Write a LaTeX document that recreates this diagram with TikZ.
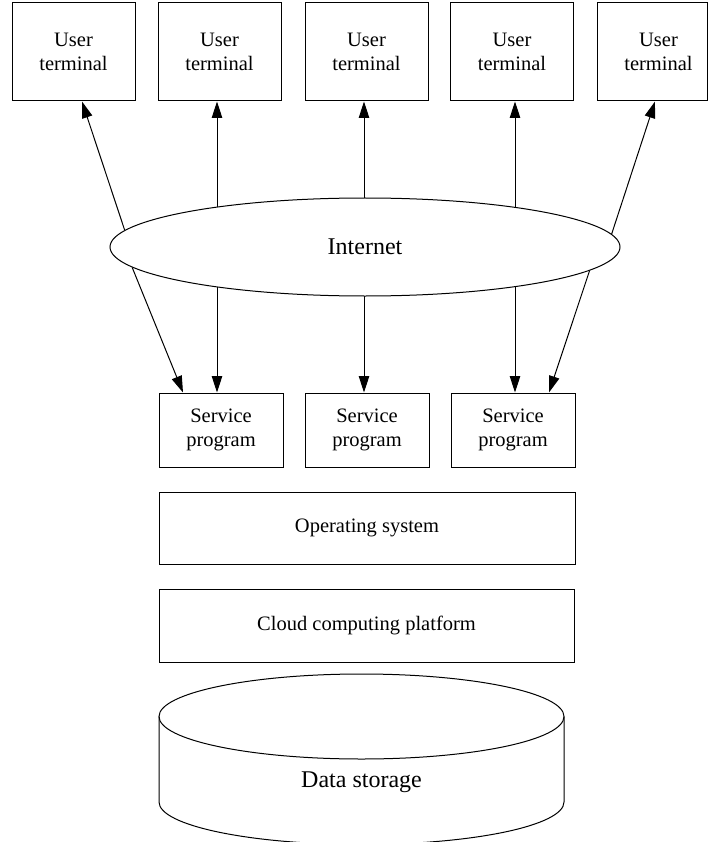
\documentclass[tikz,border=0pt]{standalone}
\usepackage{fontspec}
\setmainfont{Liberation Serif}
\usetikzlibrary{shapes.geometric,arrows.meta,backgrounds}
\begin{document}
\begin{tikzpicture}[x=1pt,y=1pt,
  box/.style={draw,line width=1pt,rectangle,inner sep=0pt,align=center,font=\fontsize{20.5}{24.6}\selectfont},
  term/.style={box,minimum width=123pt,minimum height=98pt},
  serv/.style={box,minimum width=124pt,minimum height=74pt},
  layer/.style={box,minimum width=416pt,minimum height=72pt},
  bigtext/.style={font=\fontsize{24}{28.8}\selectfont},
  arr/.style={line width=1pt,-{Triangle[length=16.5pt,width=10.5pt]}},
  thin/.style={line width=1pt}
]
\useasboundingbox (0,0) rectangle (708,-842);
% user terminals
\node[term] (u1) at (73.5,-52) {User\\terminal};
\node[term] (u2) at (219.5,-52) {User\\terminal};
\node[term] (u3) at (366.5,-52) {User\\terminal};
\node[term] (u4) at (512,-52) {User\\terminal};
\node[box,minimum width=110pt,minimum height=98pt] (u5) at (652,-52) {\hspace*{13pt}User\\\hspace*{13pt}terminal};
% internet
\node[draw,thin,ellipse,fill=white,minimum width=510pt,minimum height=98pt,inner sep=0pt,bigtext] (inet) at (365,-247) {Internet};
% service programs
\node[serv] (s1) at (221,-430) {Service\\program};
\node[serv] (s2) at (367,-430) {Service\\program};
\node[serv] (s3) at (513,-430) {Service\\program};
% layers
\node[layer] (os) at (367,-528) {Operating system};
\node[layer,minimum width=415pt,minimum height=73pt] (cloud) at (366.5,-625.5) {Cloud computing platform};
% data storage cylinder
\draw[thin] (361.5,-716.5) ellipse [x radius=202.5pt, y radius=42.5pt];
\draw[thin] (159,-716.5) -- (159,-802) arc[start angle=180,end angle=360,x radius=202.5pt,y radius=42.5pt] -- (564,-716.5);
\node[bigtext] (ds) at (361.5,-782.6) {Data storage};
% connectors
\begin{scope}[on background layer]
\draw[arr] (inet.176.5) -- ([xshift=8.5pt]u1.south);
\draw[arr] ([xshift=-2.5pt]u2.south |- inet.center) -- ([xshift=-2.5pt]u2.south);
\draw[arr] ([xshift=-2.5pt]u3.south |- inet.center) -- ([xshift=-2.5pt]u3.south);
\draw[arr] ([xshift=3pt]u4.south |- inet.center) -- ([xshift=3pt]u4.south);
\draw[arr] (inet.3.5) -- ([xshift=3pt]u5.south);
\draw[arr] (inet.185.8) -- ([xshift=-38pt]s1.north);
\draw[arr] ([xshift=-4pt]s1.north |- inet.center) -- ([xshift=-4pt]s1.north);
\draw[arr] ([xshift=-3pt]s2.north |- inet.center) -- ([xshift=-3pt]s2.north);
\draw[arr] ([xshift=2pt]s3.north |- inet.center) -- ([xshift=2pt]s3.north);
\draw[arr] (inet.354.3) -- ([xshift=36pt]s3.north);
\end{scope}
\end{tikzpicture}
\end{document}
